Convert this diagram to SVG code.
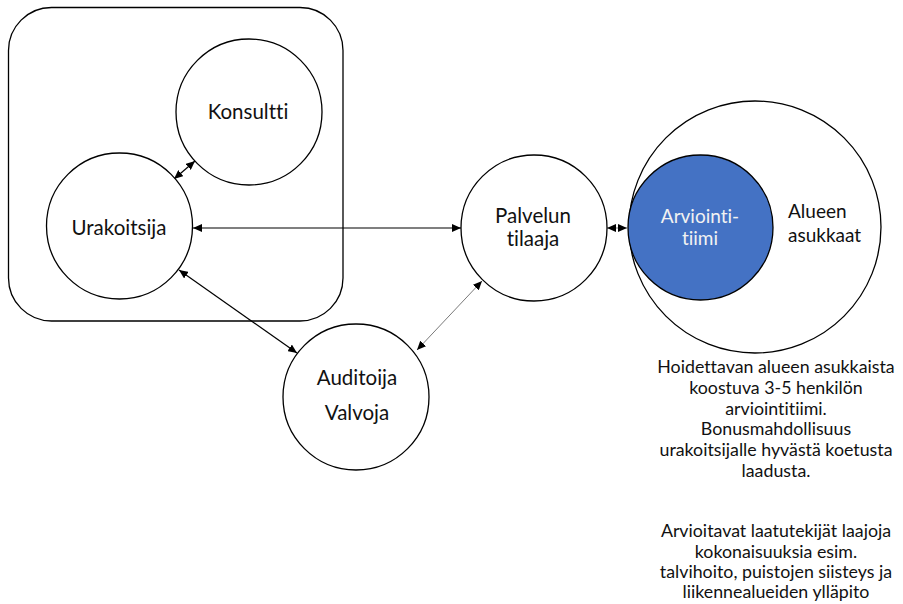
<svg xmlns="http://www.w3.org/2000/svg" width="903" height="604" viewBox="0 0 903 604">
  <style>
    text { font-family: Lato, "Liberation Sans", sans-serif; font-variant-ligatures: none; font-feature-settings: "liga" 0, "clig" 0; }
    .node { fill: #ffffff; stroke: #000000; stroke-width: 1.3; }
    .team { fill: #4472c4; stroke: #000000; stroke-width: 1.3; }
    .frame { fill: none; stroke: #000000; stroke-width: 1.3; }
    .lbl { font-size: 20.5px; fill: #111111; text-anchor: middle; }
    .lbl-in { font-size: 19px; fill: #f2f2f2; text-anchor: middle; }
    .lbl-left { font-size: 19px; fill: #111111; }
    .note { font-size: 17.8px; fill: #111111; text-anchor: middle; }
    .link { stroke: #000000; stroke-width: 1.2; fill: none; marker-start: url(#head); marker-end: url(#head); }
    .link-thin { stroke: #7a7a7a; stroke-width: 1; fill: none; marker-start: url(#head); marker-end: url(#head); }
  </style>
  <defs>
    <marker id="head" markerUnits="userSpaceOnUse" markerWidth="10" markerHeight="8" refX="9" refY="4" orient="auto-start-reverse">
      <path d="M0,0 L9,4 L0,8 Z" fill="#000000"/>
    </marker>
  </defs>

  <!-- contractor group frame -->
  <rect id="contractor-frame" class="frame" x="8.5" y="7.5" width="334.5" height="313.5" rx="43" ry="43"/>

  <g id="connectors">
    <line class="link" x1="174" y1="179" x2="195" y2="161"/>
    <line class="link" x1="193" y1="228" x2="461" y2="228"/>
    <line class="link" x1="179" y1="270" x2="297" y2="353"/>
    <line class="link-thin" x1="482" y1="281" x2="417" y2="350"/>
    <line class="link-thin" x1="607" y1="228" x2="627" y2="228"/>
  </g>

  <g id="konsultti">
    <circle class="node" cx="249" cy="112" r="73"/>
    <text class="lbl" x="248" y="119">Konsultti</text>
  </g>

  <g id="urakoitsija">
    <circle class="node" cx="119.5" cy="226" r="73"/>
    <text class="lbl" x="119" y="235">Urakoitsija</text>
  </g>

  <g id="palvelun-tilaaja">
    <circle class="node" cx="534" cy="228" r="73"/>
    <text class="lbl" x="533" y="223">Palvelun</text>
    <text class="lbl" x="533" y="246">tilaaja</text>
  </g>

  <g id="auditoija-valvoja">
    <circle class="node" cx="356" cy="397" r="73"/>
    <text class="lbl" x="357" y="385">Auditoija</text>
    <text class="lbl" x="357" y="420">Valvoja</text>
  </g>

  <g id="alueen-asukkaat">
    <circle class="node" cx="755" cy="227" r="126"/>
    <text class="lbl-left" x="788" y="218">Alueen</text>
    <text class="lbl-left" x="788" y="242">asukkaat</text>
  </g>

  <g id="arviointitiimi">
    <circle class="team" cx="700.5" cy="227.5" r="72.5"/>
    <text class="lbl-in" x="700" y="223">Arviointi-</text>
    <text class="lbl-in" x="700" y="245">tiimi</text>
  </g>

  <g id="note-team">
    <text class="note" x="776" y="373">Hoidettavan alueen asukkaista</text>
    <text class="note" x="776" y="394">koostuva 3-5 henkilön</text>
    <text class="note" x="776" y="415">arviointitiimi.</text>
    <text class="note" x="776" y="435">Bonusmahdollisuus</text>
    <text class="note" x="776" y="456">urakoitsijalle hyvästä koetusta</text>
    <text class="note" x="776" y="477">laadusta.</text>
  </g>

  <g id="note-criteria">
    <text class="note" x="776" y="537">Arvioitavat laatutekijät laajoja</text>
    <text class="note" x="776" y="558">kokonaisuuksia esim.</text>
    <text class="note" x="776" y="578">talvihoito, puistojen siisteys ja</text>
    <text class="note" x="776" y="598">liikennealueiden ylläpito</text>
  </g>
</svg>
